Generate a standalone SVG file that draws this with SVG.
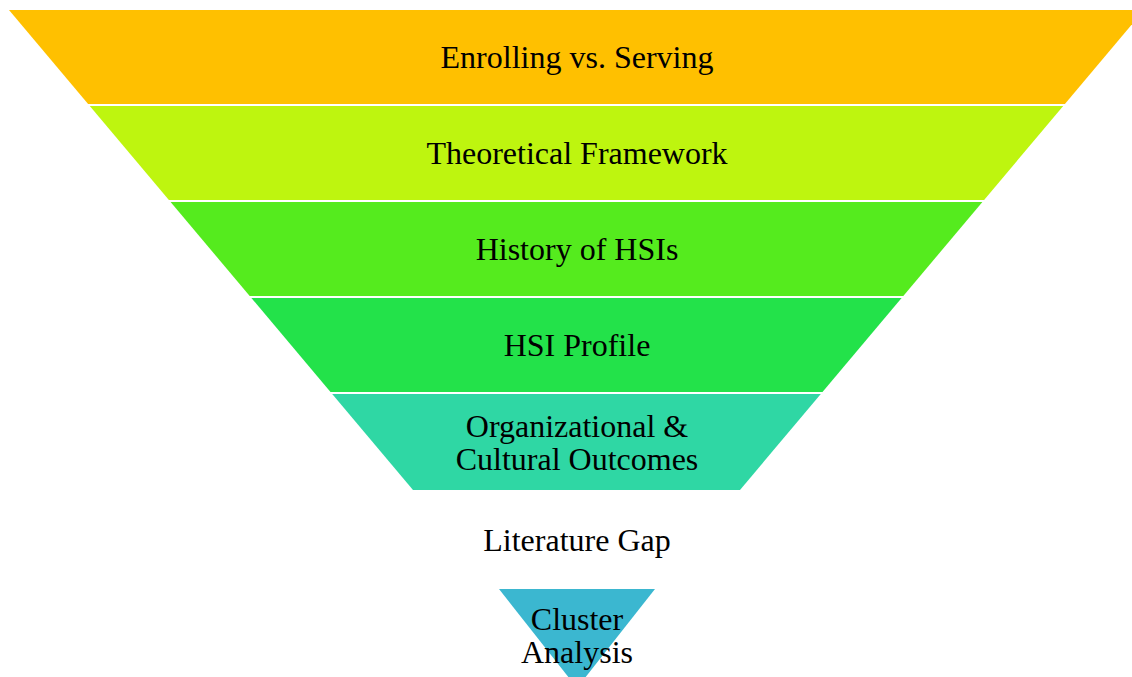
<svg xmlns="http://www.w3.org/2000/svg" width="1132" height="677" viewBox="0 0 1132 677">
<style>
text{font-family:"Liberation Serif","Times New Roman",serif;font-size:32px;fill:#000;text-anchor:middle}
</style>
<rect width="1132" height="677" fill="#fff"/>
<g id="band1"><polygon points="9,10 1144,10 1064.9,104 88.1,104" fill="#FFC000"/><text x="577" y="68">Enrolling vs. Serving</text></g>
<g id="band2"><polygon points="89.8,106 1063.2,106 984.1,200 168.9,200" fill="#BEF50F"/><text x="577" y="164">Theoretical Framework</text></g>
<g id="band3"><polygon points="170.6,202 982.4,202 903.3,296 249.7,296" fill="#55EB1E"/><text x="577" y="260">History of HSIs</text></g>
<g id="band4"><polygon points="251.4,298 901.6,298 822.5,392 330.5,392" fill="#23E24A"/><text x="577" y="356">HSI Profile</text></g>
<g id="band5"><polygon points="332.2,394 820.8,394 740,490 413,490" fill="#2FD7A4"/><text x="577" y="437">Organizational &amp;</text><text x="577" y="470">Cultural Outcomes</text></g>
<g id="gap"><text x="577" y="551">Literature Gap</text></g>
<g id="cluster"><polygon points="499,589 655,589 577,688" fill="#3BB7D0"/><text x="577" y="630">Cluster</text><text x="577" y="663">Analysis</text></g>
<g id="connectors"></g>
</svg>
